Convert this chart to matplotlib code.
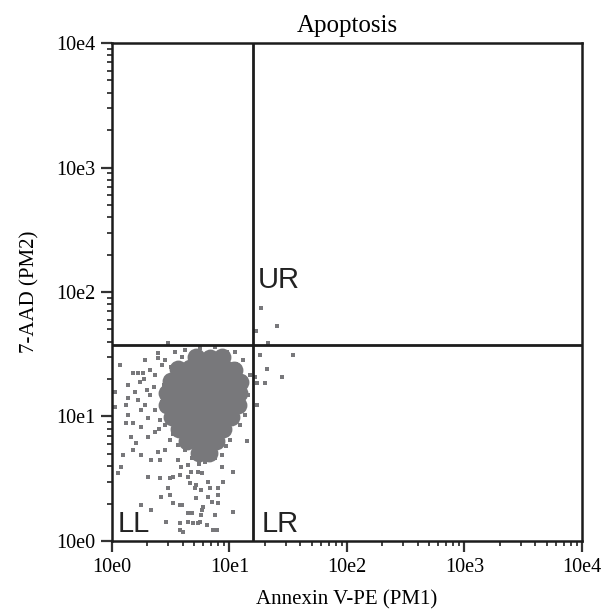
import numpy as np
import matplotlib
matplotlib.use("Agg")
import matplotlib.pyplot as plt
from matplotlib.ticker import FixedLocator, LogLocator, NullFormatter

plt.rcParams['font.family'] = ['Liberation Serif', 'DejaVu Serif']

# log10 intensities (PM1, PM2) of the dense core of the LL population
core_logx = [0.715, 0.834, 0.936,
             0.562, 0.664, 0.766, 0.868, 0.970, 1.038,
             0.502, 0.604, 0.706, 0.809, 0.911, 1.013, 1.089,
             0.468, 0.570, 0.672, 0.774, 0.877, 0.979, 1.081,
             0.468, 0.570, 0.672, 0.774, 0.877, 0.979, 1.072,
             0.511, 0.613, 0.715, 0.817, 0.919, 1.013,
             0.570, 0.672, 0.774, 0.877, 0.945,
             0.638, 0.740, 0.843, 0.885,
             0.740, 0.826]
core_logy = [1.478, 1.470, 1.478,
             1.382, 1.390, 1.382, 1.382, 1.382, 1.373,
             1.285, 1.285, 1.285, 1.285, 1.285, 1.285, 1.277,
             1.189, 1.189, 1.189, 1.189, 1.189, 1.189, 1.189,
             1.092, 1.092, 1.092, 1.092, 1.092, 1.092, 1.092,
             0.996, 0.996, 0.996, 0.996, 0.996, 0.996,
             0.900, 0.900, 0.900, 0.900, 0.900,
             0.803, 0.803, 0.803, 0.803,
             0.707, 0.707]

# sparse events, log10 (PM1, PM2)
events = [
    (0.477, 1.590), (0.068, 1.414), (0.281, 1.454), (0.391, 1.510), (0.391, 1.470),
    (0.536, 1.518), (0.179, 1.349), (0.221, 1.349), (0.264, 1.349), (0.026, 1.197),
    (0.136, 1.253), (0.136, 1.149), (0.026, 1.076), (0.119, 1.092), (0.221, 1.133),
    (0.136, 1.012), (0.247, 1.052), (0.119, 0.948), (0.179, 0.948), (0.247, 0.916),
    (0.306, 0.988), (0.366, 0.876), (0.451, 0.932), (0.562, 0.996), (0.162, 0.835),
    (0.204, 0.787), (0.306, 0.835), (0.179, 0.731), (0.247, 0.691), (0.094, 0.691),
    (0.077, 0.594), (0.051, 0.546), (0.391, 0.715), (0.451, 0.731), (0.332, 0.651),
    (0.409, 0.651), (0.306, 0.514), (0.409, 0.506), (0.562, 0.651), (0.587, 0.594),
    (0.647, 0.610), (0.672, 0.554), (0.494, 0.506), (0.519, 0.514), (0.477, 0.426),
    (0.417, 0.353), (0.494, 0.369), (0.519, 0.305), (0.579, 0.289), (0.247, 0.289),
    (0.332, 0.249), (0.460, 0.153), (0.579, 0.145), (0.579, 0.088), (0.647, 0.153),
    (0.689, 0.145), (0.732, 0.145), (0.715, 0.345), (0.757, 0.209), (0.647, 0.225),
    (0.715, 0.450), (0.757, 0.410), (1.149, 0.803), (1.030, 0.554), (0.936, 0.594),
    (0.902, 0.426), (0.902, 0.369), (0.817, 0.353), (0.851, 0.313), (0.902, 0.305),
    (0.774, 0.273), (0.766, 0.249), (0.681, 0.225), (0.877, 0.209), (1.030, 0.233),
    (0.596, 0.289), (0.749, 0.153), (0.894, 0.088), (0.809, 0.129), (0.664, 0.466),
    (0.706, 0.426), (0.817, 0.474), (0.834, 0.426), (0.647, 0.514), (0.579, 0.530),
    (0.945, 0.474), (0.732, 0.554), (0.766, 0.546), (0.860, 0.088), (0.604, 0.072),
    (1.328, 1.590), (1.260, 1.494), (1.540, 1.494), (1.319, 1.382), (1.447, 1.317),
    (1.217, 1.317), (1.302, 1.269), (1.234, 1.269), (1.234, 1.092), (1.268, 1.871),
    (1.404, 1.727), (1.226, 1.687),
    (0.238, 1.277), (0.298, 1.213), (0.323, 1.173), (0.366, 1.333), (0.426, 1.414),
    (0.323, 1.373), (0.196, 1.197), (0.281, 1.092), (0.366, 1.052), (0.409, 0.972),
    (0.494, 0.811), (0.562, 0.771), (0.621, 0.731), (0.681, 0.667), (0.834, 0.651),
    (0.936, 0.691), (1.004, 0.811), (1.089, 0.932), (1.132, 1.012), (1.157, 1.173),
    (1.174, 1.333), (1.115, 1.454), (1.047, 1.518), (0.877, 1.558), (0.749, 1.550),
    (0.621, 1.534), (0.451, 1.454),
    (0.791, 0.635), (0.877, 0.667), (0.740, 0.620), (0.970, 0.760), (0.520, 0.860),
    (0.430, 1.120), (0.440, 1.250), (0.500, 1.400), (1.110, 1.230), (1.060, 1.420),
    (0.980, 1.520), (0.600, 1.480), (0.360, 1.240), (0.270, 1.300), (0.400, 0.900),
]

# quadrant gates
gate_x = 15.8
gate_y = 37.5

tick_vals = [1, 10, 100, 1000, 10000]
tick_labels = ['10e0', '10e1', '10e2', '10e3', '10e4']

quad_labels = [('UR', 17.5, 107.5), ('LL', 1.125, 1.18), ('LR', 18.9, 1.18)]

dot_color = '#78787b'
line_color = '#1c1c1c'

fig = plt.figure(figsize=(6.05, 6.11), dpi=100)
ax = fig.add_axes([0.185, 0.1146, 0.777, 0.815])

ev = np.array(events)
ax.scatter(10 ** np.array(core_logx), 10 ** np.array(core_logy), s=165, marker='o',
           color=dot_color, linewidths=0, zorder=2)
ax.scatter(10 ** ev[:, 0], 10 ** ev[:, 1], s=7, marker='s',
           color=dot_color, linewidths=0, zorder=2)

ax.set_xscale('log')
ax.set_yscale('log')
ax.set_xlim(1, 1e4)
ax.set_ylim(1, 1e4)

ax.axvline(gate_x, color=line_color, lw=2.0, zorder=3)
ax.axhline(gate_y, color=line_color, lw=2.0, zorder=3)

for txt, x, y in quad_labels:
    ax.text(x, y, txt, fontsize=21, family=['Liberation Sans', 'DejaVu Sans'],
            color='#222222', ha='left', va='baseline', zorder=4)

for axis in (ax.xaxis, ax.yaxis):
    axis.set_major_locator(FixedLocator(tick_vals))
    axis.set_minor_locator(LogLocator(base=10, subs=np.arange(2, 10)))
    axis.set_minor_formatter(NullFormatter())
ax.set_xticklabels(tick_labels)
ax.set_yticklabels(tick_labels)

ax.tick_params(which='major', direction='out', length=8, width=1.6, color='#333333',
               labelsize=14.5, pad=4)
ax.tick_params(which='minor', direction='out', length=3.5, width=1.3, color='#333333')

for sp in ax.spines.values():
    sp.set_linewidth(1.8)
    sp.set_color(line_color)

ax.set_title('Apoptosis', fontsize=18, pad=8)
ax.set_xlabel('Annexin V-PE (PM1)', fontsize=15, labelpad=10)
ax.set_ylabel('7-AAD (PM2)', fontsize=15, labelpad=12)

fig.savefig('out.png', dpi=100)
